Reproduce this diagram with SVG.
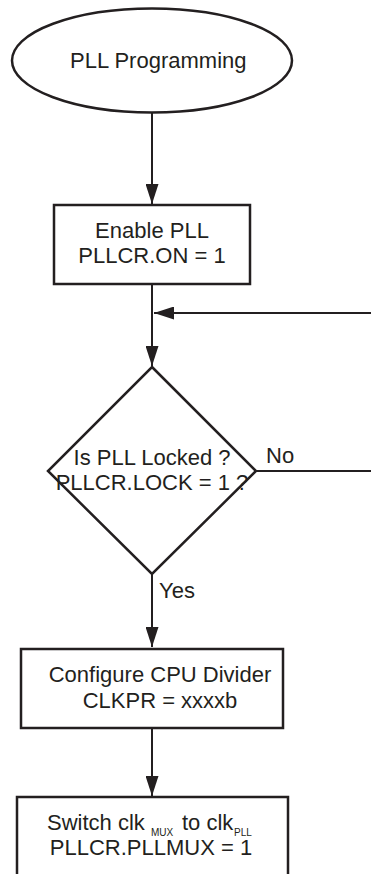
<svg xmlns="http://www.w3.org/2000/svg" width="371" height="874" viewBox="0 0 371 874">
<style>
.shape{fill:#ffffff;stroke:#231f20;stroke-width:2.5}
.line{fill:none;stroke:#231f20;stroke-width:2}
text{font-family:"Liberation Sans",Arial,sans-serif;font-size:22px;fill:#231f20}
.sub{font-size:10px}
</style>
<defs>
<marker id="arrow" markerWidth="20" markerHeight="13" refX="20" refY="6.5" orient="auto" markerUnits="userSpaceOnUse">
<path d="M0,0 L20,6.5 L0,13 Z" fill="#231f20"/>
</marker>
</defs>
<rect width="371" height="874" fill="#ffffff"/>
<g id="connectors">
<line class="line" x1="152" y1="113" x2="152" y2="204" marker-end="url(#arrow)"/>
<line class="line" x1="152" y1="285" x2="152" y2="366" marker-end="url(#arrow)"/>
<line class="line" x1="371" y1="313" x2="154" y2="313" marker-end="url(#arrow)"/>
<polyline class="line" points="256,471 371,471"/>
<line class="line" x1="152" y1="574" x2="152" y2="647" marker-end="url(#arrow)"/>
<line class="line" x1="152" y1="729" x2="152" y2="796" marker-end="url(#arrow)"/>
<text x="266" y="463">No</text>
<text x="159" y="598">Yes</text>
</g>
<g id="start">
<ellipse class="shape" cx="152" cy="60.5" rx="140" ry="52"/>
<text x="70" y="68">PLL Programming</text>
</g>
<g id="enable">
<rect class="shape" x="54" y="205" width="196" height="79"/>
<text x="152" y="238" text-anchor="middle">Enable PLL</text>
<text x="152" y="263" text-anchor="middle">PLLCR.ON = 1</text>
</g>
<g id="locked">
<polygon class="shape" points="152,367 256,471 152,574 48,471"/>
<text x="152" y="465" text-anchor="middle">Is PLL Locked ?</text>
<text x="152" y="490" text-anchor="middle">PLLCR.LOCK = 1 ?</text>
</g>
<g id="divider">
<rect class="shape" x="21" y="649" width="262" height="79"/>
<text x="160" y="682" text-anchor="middle">Configure CPU Divider</text>
<text x="160" y="708" text-anchor="middle">CLKPR = xxxxb</text>
</g>
<g id="switch">
<rect class="shape" x="17" y="797" width="271" height="100"/>
<text x="47" y="830">Switch clk</text>
<text class="sub" x="151" y="836">MUX</text>
<text x="182" y="830">to clk</text>
<text class="sub" x="234" y="836">PLL</text>
<text x="151" y="855" text-anchor="middle">PLLCR.PLLMUX = 1</text>
</g>
</svg>
